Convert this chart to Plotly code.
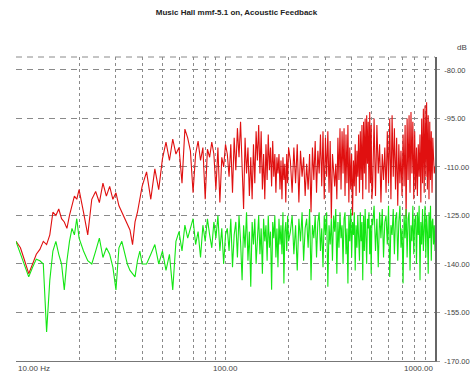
import math
import plotly.graph_objects as go

# ---------------- data ----------------
freq_hz = [
    10, 10.5, 11, 11.5, 12, 12.5, 13, 13.5, 14, 14.5, 15, 15.5, 16, 16.5, 17, 17.5, 18, 18.5, 19, 19.5, 20,
    21, 22, 23, 24, 25, 26, 27, 28, 29, 30, 31, 32, 33, 34, 35, 36, 37, 38, 39, 40,
    42, 44, 46, 48, 50, 52, 54, 56, 58, 60, 62, 64, 66, 68, 70, 72, 74, 76, 78, 80,
    82, 84, 86, 88, 90, 92, 94, 96, 98, 100,
    102, 104, 106, 108, 110, 112, 114, 116, 118, 120, 122, 124, 126, 128, 130, 132, 134, 136, 138, 140,
    142, 144, 146, 148, 150, 152, 154, 156, 158, 160, 162, 164, 166, 168, 170, 172, 174, 176, 178, 180,
    182, 184, 186, 188, 190, 192, 194, 196, 198, 200,
    204, 208, 212, 216, 220, 224, 228, 232, 236, 240, 244, 248, 252, 256, 260, 264, 268, 272, 276, 280,
    284, 288, 292, 296, 300, 304, 308, 312, 316, 320, 324, 328, 332, 336, 340, 344, 348, 352, 356, 360,
    364, 368, 372, 376, 380, 384, 388, 392, 396, 400, 404, 408, 412, 416, 420, 424, 428, 432, 436, 440,
    444, 448, 452, 456, 460, 464, 468, 472, 476, 480, 484, 488, 492, 496, 500,
    504, 512, 520, 528, 536, 544, 552, 560, 568, 576, 584, 592, 600, 608, 616, 624, 632, 640, 648, 656,
    664, 672, 680, 688, 696, 704, 712, 720, 728, 736, 744, 752, 760, 768, 776, 784, 792, 800, 808, 816,
    824, 832, 840, 848, 856, 864, 872, 880, 888, 896, 904, 912, 920, 928, 936, 944, 952, 960, 968, 976,
    984, 992, 1000,
]

feedback_db = [
    -133, -135, -139, -143, -140, -137, -135.5, -133, -134, -131, -124, -125, -123, -126, -127, -129, -125, -122, -119, -120, -117,
    -124, -131, -120, -117.6, -121, -115, -119, -116, -120, -118, -122, -124, -126, -128, -129.5, -134, -127, -124, -119.8, -116,
    -111.5, -120, -110.6, -117, -107.5, -102.3, -108, -101.4, -106, -104, -115, -98.3, -101, -105, -118, -106, -102, -108, -104, -120,
    -104.5, -107, -102.3, -106, -117, -104, -121, -107, -110, -103,
    -106, -113, -103, -118, -101, -111, -98, -107, -96, -109, -123, -101, -112, -104, -119, -107, -120, -103, -115, -99,
    -108, -97, -112, -99, -117, -106, -120, -103, -114, -100, -111, -104, -116, -102, -113, -106, -118, -107, -112, -106,
    -117, -108, -120, -107, -114, -109, -121, -106, -115, -104,
    -108, -118, -104, -115, -103, -121, -105, -113, -107, -119, -109, -117, -106, -124, -104, -114, -102, -118, -105, -112,
    -100, -116, -99, -120, -101, -113, -99, -118, -102, -126, -106, -111, -116, -109, -120, -101, -114, -98, -117, -99,
    -112, -98, -119, -100, -115, -97, -121, -104, -117, -106, -125, -108, -116, -103, -119, -105, -113, -100, -118, -99,
    -114, -97, -120, -96, -112, -95, -117, -94, -109, -96, -118, -93, -115, -97, -120,
    -116, -95, -119, -97, -112, -103, -121, -106, -114, -104, -118, -99, -115, -95, -120, -94, -113, -98, -117, -101,
    -122, -103, -115, -105, -119, -100, -116, -97, -126, -95, -114, -94, -118, -93, -112, -96, -120, -99, -117, -104,
    -119, -103, -113, -100, -121, -95, -115, -92, -118, -91, -113, -90, -117, -94, -120, -96, -114, -99, -118, -101,
    -107, -112, -110,
]

noise_floor_db = [
    -133, -137, -141, -144, -141, -138.5, -139, -140, -161, -145, -136, -133, -137, -140, -148, -139, -133, -129, -131, -126, -132,
    -136, -139, -140, -136, -132, -138, -135, -137, -141, -148, -135, -133, -137, -140, -142, -143, -144, -139, -136, -140,
    -140, -137, -134, -140, -136, -142, -137, -148, -133, -130, -136, -128, -132, -129, -126, -134, -130, -138, -128, -133,
    -126, -131, -135, -127, -132, -125, -136, -129, -140, -131,
    -129, -136, -126, -141, -131, -127, -138, -125, -133, -145, -128, -135, -124, -139, -130, -147, -127, -134, -126, -140,
    -131, -125, -137, -129, -143, -126, -133, -128, -139, -125, -135, -130, -148, -127, -132, -125, -138, -129, -141, -126,
    -134, -128, -137, -124, -146, -130, -127, -136, -125, -133,
    -130, -125, -137, -128, -142, -126, -133, -124, -139, -129, -126, -135, -123, -145, -128, -132, -125, -138, -127, -124,
    -136, -129, -141, -125, -131, -124, -147, -128, -134, -126, -139, -125, -130, -123, -143, -127, -135, -124, -132, -128,
    -140, -126, -124, -137, -129, -146, -125, -133, -123, -138, -127, -131, -124, -142, -128, -135, -125, -130, -139, -124,
    -133, -127, -145, -125, -136, -123, -131, -140, -126, -129, -124, -137, -128, -143, -126,
    -128, -122, -136, -126, -141, -124, -132, -123, -138, -127, -125, -134, -122, -144, -128, -131, -123, -137, -126, -124,
    -139, -127, -122, -135, -129, -146, -125, -132, -123, -138, -126, -124, -142, -128, -133, -122, -137, -127, -125, -140,
    -124, -131, -122, -145, -127, -134, -123, -136, -126, -122, -138, -125, -130, -143, -124, -132, -122, -139, -127, -126,
    -134, -128, -136,
]

assert len(freq_hz) == len(feedback_db) == len(noise_floor_db), (len(freq_hz), len(feedback_db), len(noise_floor_db))

title_text = "Music Hall mmf-5.1 on, Acoustic Feedback"
y_ticks = [-80, -95, -110, -125, -140, -155, -170]
y_tick_text = ["-80.00", "-95.00", "-110.00", "-125.00", "-140.00", "-155.00", "-170.00"]
x_grid = [10, 20, 30, 40, 50, 60, 70, 80, 90, 100, 200, 300, 400, 500, 600, 700, 800, 900, 1000]
x_label_vals = [10, 100, 1000]
x_label_text = ["10.00 Hz", "100.00", "1000.00"]

FONT = "Liberation Sans, Arial, sans-serif"

fig = go.Figure()
fig.add_trace(go.Scatter(
    x=freq_hz, y=feedback_db, mode="lines",
    line=dict(color="#e01010", width=1.1), name="Feedback", hoverinfo="skip",
))
fig.add_trace(go.Scatter(
    x=freq_hz, y=noise_floor_db, mode="lines",
    line=dict(color="#14e614", width=1.1), name="Noise", hoverinfo="skip",
))

fig.update_layout(
    width=473, height=376,
    margin=dict(l=16, r=38, t=57, b=15),
    paper_bgcolor="white", plot_bgcolor="white",
    showlegend=False,
    font=dict(family=FONT, size=8, color="#333"),
    title=dict(text="<b>" + title_text + "</b>", x=0.5, xanchor="center",
               y=1 - 12 / 376, yanchor="middle",
               font=dict(family=FONT, size=8, color="#222")),
    xaxis=dict(
        type="log", range=[1, 3], automargin=False,
        tickvals=x_grid, ticktext=[""] * len(x_grid),
        showgrid=True, gridcolor="#8a8a8a", gridwidth=1, griddash="3px,3px",
        showline=True, linecolor="#777", linewidth=1,
        ticks="", zeroline=False,
    ),
    yaxis=dict(
        range=[-170, -76], side="right", automargin=False,
        tickvals=y_ticks, ticktext=y_tick_text,
        showgrid=True, gridcolor="#8a8a8a", gridwidth=1, griddash="6px,5px",
        showline=True, linecolor="#666", linewidth=1.5,
        ticks="outside", ticklen=3, tickcolor="#999",
        ticklabelstandoff=3,
        tickfont=dict(family=FONT, size=7.5, color="#444"),
        zeroline=False,
    ),
)

# x tick labels as annotations (first left-aligned, last right-aligned)
anchors = ["left", "center", "right"]
for v, t, a in zip(x_label_vals, x_label_text, anchors):
    fig.add_annotation(x=math.log10(v), y=0, xref="x", yref="paper",
                       text=t, showarrow=False, xanchor=a, yanchor="top", yshift=-1,
                       font=dict(family=FONT, size=8, color="#444"))

# top dashed border
fig.add_shape(type="line", xref="paper", yref="paper", x0=0, x1=1, y0=1, y1=1,
              line=dict(color="#8a8a8a", width=1, dash="6px,5px"))

# dB unit label
fig.add_annotation(x=1, y=1, xref="paper", yref="paper", text="dB", showarrow=False,
                   xanchor="left", yanchor="bottom", xshift=20, yshift=3,
                   font=dict(family=FONT, size=8, color="#444"))

fig.write_html("out.html")
